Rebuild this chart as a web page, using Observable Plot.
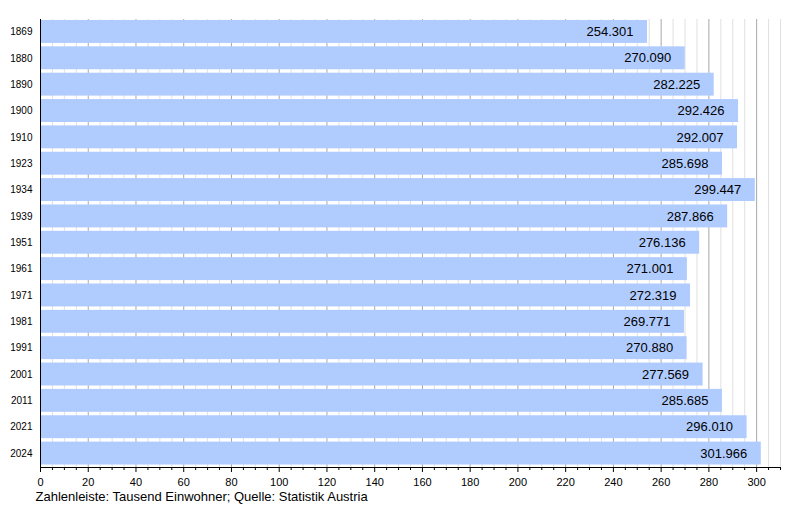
<!DOCTYPE html>
<html>
<head>
<meta charset="utf-8">
<script src="https://cdn.jsdelivr.net/npm/d3@7"></script>
<script src="https://cdn.jsdelivr.net/npm/@observablehq/plot@0.6"></script>
<style>
  html, body { margin: 0; padding: 0; background: #fff; }
  #chart { width: 800px; height: 508px; }
</style>
</head>
<body>
<div id="chart"></div>
<script>
const years = ["1869","1880","1890","1900","1910","1923","1934","1939","1951","1961","1971","1981","1991","2001","2011","2021","2024"];
const population = [254301, 270090, 282225, 292426, 292007, 285698, 299447, 287866, 276136, 271001, 272319, 269771, 270880, 277569, 285685, 296010, 301966];
const majorTicks = [0,20,40,60,80,100,120,140,160,180,200,220,240,260,280,300];
const minorTicks = [0,5,10,15,20,25,30,35,40,45,50,55,60,65,70,75,80,85,90,95,100,105,110,115,120,125,130,135,140,145,150,155,160,165,170,175,180,185,190,195,200,205,210,215,220,225,230,235,240,245,250,255,260,265,270,275,280,285,290,295,300,305,310];
const caption = "Zahlenleiste: Tausend Einwohner; Quelle: Statistik Austria";

const de = d3.formatLocale({decimal: ",", thousands: ".", grouping: [3], currency: ["", " €"]});
const fmt = de.format(",d");
const data = years.map((y, i) => ({year: y, value: population[i] / 1000, label: fmt(population[i])}));
const minorOnly = minorTicks.filter(t => t % 20 !== 0);

const chart = Plot.plot({
  width: 800,
  height: 508,
  marginLeft: 40,
  marginRight: 20,
  marginTop: 19,
  marginBottom: 41,
  style: {fontFamily: "'Liberation Sans', Arial, sans-serif", background: "#fff", color: "#000"},
  x: {domain: [0, 310], axis: null},
  y: {domain: years, paddingInner: 0.13, paddingOuter: 0.066, align: 0.29, round: false, axis: null},
  marks: [
    Plot.ruleX(minorOnly, {stroke: "#e0e0e0", strokeWidth: 1}),
    Plot.ruleX(majorTicks.filter(t => t > 0), {stroke: "#a8a8a8", strokeWidth: 1}),
    Plot.barX(data, {x: "value", y: "year", fill: "#b0ccff"}),
    Plot.text(data, {x: "value", y: "year", text: "label", textAnchor: "end", dx: -14, fontSize: 13, fill: "#000"}),
    Plot.axisY({tickSize: 0, tickPadding: 8, fontSize: 10, label: null}),
    Plot.axisX(minorOnly, {tickSize: 3, text: null, label: null, stroke: "#000"}),
    Plot.axisX(majorTicks, {tickSize: 5, tickPadding: 6, fontSize: 11, label: null, stroke: "#000"}),
    Plot.frame({anchor: "bottom", stroke: "#000"}),
    Plot.frame({anchor: "left", stroke: "#000"}),
    Plot.text([caption], {frameAnchor: "bottom-left", dx: -5, dy: 33, text: d => d, textAnchor: "start", fontSize: 13, fill: "#000"})
  ]
});
document.getElementById("chart").appendChild(chart);
</script>
</body>
</html>
